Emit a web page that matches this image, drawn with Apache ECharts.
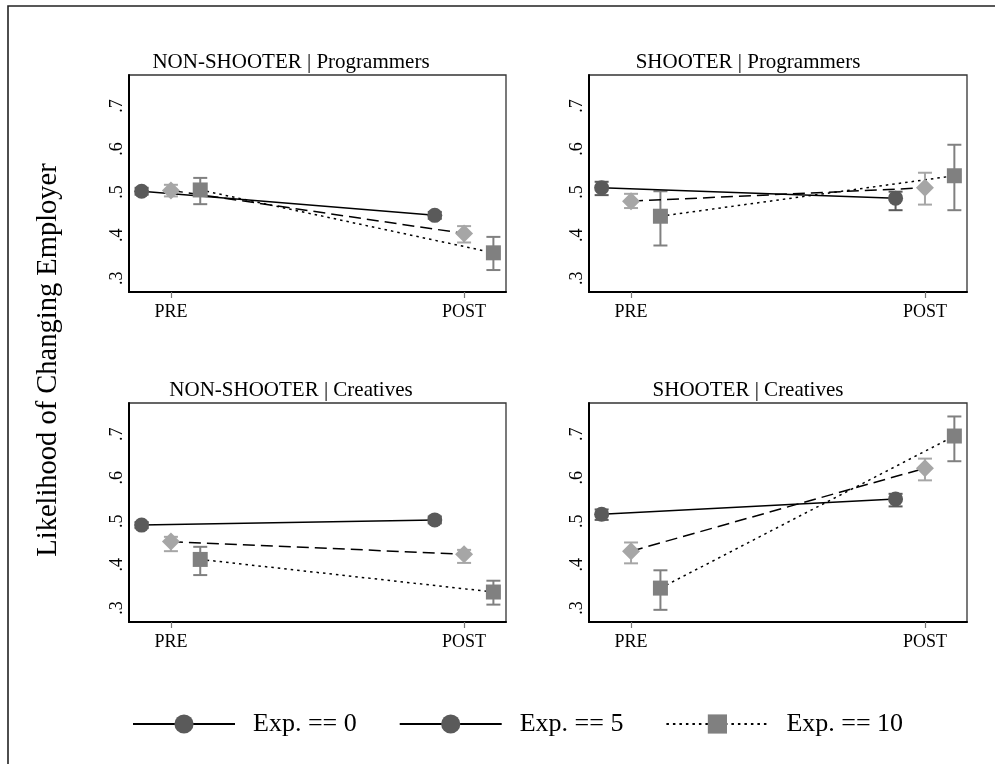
<!DOCTYPE html>
<html>
<head>
<meta charset="utf-8">
<script src="https://cdn.jsdelivr.net/npm/echarts@6/dist/echarts.min.js"></script>
<style>
html,body{margin:0;padding:0;background:#fff;}
#chart{width:995px;height:764px;}
</style>
</head>
<body>
<div id="chart"></div>
<script>
// ---- data ----
const categories = ['PRE', 'POST'];
const panelTitles = ['NON-SHOOTER | Programmers', 'SHOOTER | Programmers', 'NON-SHOOTER | Creatives', 'SHOOTER | Creatives'];
const yTickValues = [0.3, 0.4, 0.5, 0.6, 0.7];
const yTickLabels = ['.3', '.4', '.5', '.6', '.7'];
const legendNames = ['Exp. == 0', 'Exp. == 5', 'Exp. == 10'];
const yAxisTitle = 'Likelihood of Changing Employer';

// per panel: [PRE, POST]
const exp0Mean = [[0.502, 0.446], [0.510, 0.486], [0.491, 0.503], [0.516, 0.551]];
const exp0Low  = [[0.494, 0.438], [0.493, 0.458], [0.484, 0.495], [0.503, 0.534]];
const exp0High = [[0.510, 0.454], [0.524, 0.501], [0.498, 0.511], [0.527, 0.563]];

const exp5Mean = [[0.504, 0.404], [0.479, 0.510], [0.453, 0.424], [0.431, 0.622]];
const exp5Low  = [[0.490, 0.383], [0.463, 0.471], [0.431, 0.404], [0.403, 0.594]];
const exp5High = [[0.517, 0.421], [0.496, 0.545], [0.464, 0.434], [0.451, 0.644]];

const exp10Mean = [[0.505, 0.359], [0.444, 0.538], [0.412, 0.337], [0.346, 0.696]];
const exp10Low  = [[0.472, 0.319], [0.376, 0.458], [0.376, 0.308], [0.296, 0.638]];
const exp10High = [[0.533, 0.396], [0.502, 0.610], [0.441, 0.363], [0.387, 0.741]];

// ---- styling / layout ----
const FONT = "'Liberation Serif', 'Times New Roman', serif";
const groupOffsets = [-0.1, 0, 0.1];
const groups = [
  {mean: exp0Mean, low: exp0Low, high: exp0High, color: '#5a5a5a', symbol: 'circle', size: 15, line: 'solid'},
  {mean: exp5Mean, low: exp5Low, high: exp5High, color: '#a6a6a6', symbol: 'diamond', size: 18, line: [12, 6]},
  {mean: exp10Mean, low: exp10Low, high: exp10High, color: '#808080', symbol: 'rect', size: 15, line: [2.5, 4]}
];
const gridBoxes = [
  {left: 129, top: 75, width: 377, height: 217},
  {left: 589, top: 75, width: 378, height: 217},
  {left: 129, top: 403, width: 377, height: 219},
  {left: 589, top: 403, width: 378, height: 219}
];
const titlePos = [{x: 291, y: 52}, {x: 748, y: 52}, {x: 291, y: 380}, {x: 748, y: 380}];

const grids = [], xAxes = [], yAxes = [], titles = [], series = [];

gridBoxes.forEach((g, i) => {
  grids.push(Object.assign({show: true, borderColor: '#333', borderWidth: 1.3, backgroundColor: '#fff'}, g));
  xAxes.push({
    type: 'value', gridIndex: i, min: -0.143, max: 1.143,
    axisLine: {show: true, onZero: false, lineStyle: {color: '#000', width: 2}},
    axisTick: {show: true, customValues: [0, 1], length: 6, lineStyle: {color: '#777', width: 1.2}},
    axisLabel: {show: true, customValues: [0, 1], margin: 11, color: '#000', fontFamily: FONT, fontSize: 18,
      formatter: v => categories[Math.round(v)]},
    splitLine: {show: false}
  });
  yAxes.push({
    type: 'value', gridIndex: i, min: 0.268, max: 0.772,
    axisLine: {show: true, onZero: false, lineStyle: {color: '#000', width: 2}},
    axisTick: {show: false},
    axisLabel: {show: true, customValues: yTickValues, rotate: 90, margin: 3, color: '#000', fontFamily: FONT, fontSize: 18,
      formatter: v => yTickLabels[yTickValues.findIndex(t => Math.abs(t - v) < 1e-6)]},
    splitLine: {show: false}
  });
  titles.push({
    text: panelTitles[i], left: titlePos[i].x, top: titlePos[i].y, textAlign: 'center', padding: 0,
    textStyle: {fontFamily: FONT, fontSize: 21, fontWeight: 'normal', color: '#000'}
  });

  groups.forEach((grp, k) => {
    const off = groupOffsets[k];
    // error bars
    series.push({
      type: 'custom', name: 'err' + k + '_' + i, xAxisIndex: i, yAxisIndex: i, z: 1, silent: true,
      data: categories.map((c, j) => [j + off, grp.low[i][j], grp.high[i][j]]),
      renderItem: (params, api) => {
        const x = api.value(0);
        const lo = api.coord([x, api.value(1)]);
        const hi = api.coord([x, api.value(2)]);
        const cw = 7;
        const st = {stroke: grp.color, lineWidth: 2, fill: null};
        return {type: 'group', children: [
          {type: 'line', shape: {x1: lo[0], y1: lo[1], x2: hi[0], y2: hi[1]}, style: st},
          {type: 'line', shape: {x1: lo[0] - cw, y1: lo[1], x2: lo[0] + cw, y2: lo[1]}, style: st},
          {type: 'line', shape: {x1: hi[0] - cw, y1: hi[1], x2: hi[0] + cw, y2: hi[1]}, style: st}
        ]};
      }
    });
    // connected means
    series.push({
      type: 'line', name: 'mean' + k + '_' + i, xAxisIndex: i, yAxisIndex: i, z: 2, silent: true,
      data: categories.map((c, j) => [j + off, grp.mean[i][j]]),
      symbol: grp.symbol, symbolSize: grp.size, showSymbol: true,
      itemStyle: {color: grp.color, opacity: 1},
      lineStyle: {color: '#000', width: 1.5, type: grp.line}
    });
  });
});

// legend-only series (reproducing the reference's legend keys)
const legendStyles = [
  {symbol: 'circle', color: '#5a5a5a', line: 'solid'},
  {symbol: 'circle', color: '#5a5a5a', line: 'solid'},
  {symbol: 'rect', color: '#808080', line: [2.5, 4]}
];
legendNames.forEach((n, k) => {
  series.push({
    type: 'line', name: n, xAxisIndex: 0, yAxisIndex: 0, data: [],
    symbol: legendStyles[k].symbol,
    itemStyle: {color: legendStyles[k].color},
    lineStyle: {color: '#000', width: 2, type: legendStyles[k].line}
  });
});

const chart = echarts.init(document.getElementById('chart'), null, {renderer: 'canvas'});
chart.setOption({
  animation: false,
  backgroundColor: '#fff',
  title: titles,
  grid: grids,
  xAxis: xAxes,
  yAxis: yAxes,
  legend: {
    data: legendNames, left: 132, top: 711, itemWidth: 102, itemHeight: 24, itemGap: 42, padding: 0,
    selectedMode: false,
    textStyle: {fontFamily: FONT, fontSize: 26, color: '#000', padding: [0, 0, 0, 13]}
  },
  graphic: [
    {type: 'rect', shape: {x: 8, y: 6, width: 1100, height: 900}, style: {fill: null, stroke: '#222', lineWidth: 1.6}, z: -10, silent: true},
    {type: 'text', x: 49, y: 360, rotation: Math.PI / 2,
      style: {text: yAxisTitle, font: '28.5px ' + FONT, fill: '#000', textAlign: 'center', textVerticalAlign: 'middle'}}
  ],
  series: series
});
</script>
</body>
</html>
